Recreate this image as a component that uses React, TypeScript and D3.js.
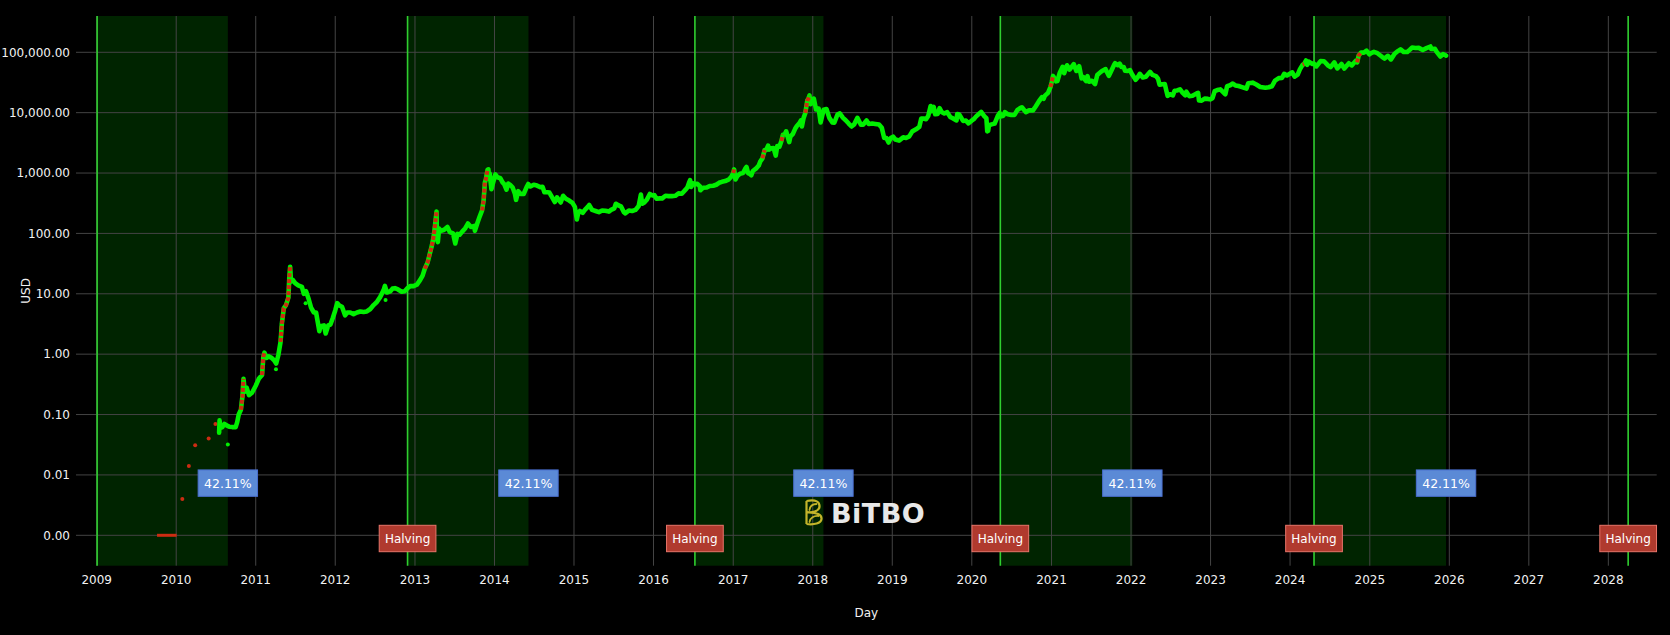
import React from "react";
import * as d3 from "d3";

// ---------- DATA ----------
const yearTicks: number[] = [2009,2010,2011,2012,2013,2014,2015,2016,2017,2018,2019,2020,2021,2022,2023,2024,2025,2026,2027,2028];
const priceTicks: number[] = [0.001,0.01,0.1,1,10,100,1000,10000,100000];

// halving dates (first = genesis block)
const halvingLines: string[] = ["2009-01-03","2012-11-28","2016-07-09","2020-05-11","2024-04-20","2028-04-01"];
const halvingLabels: string[] = ["2012-11-28","2016-07-09","2020-05-11","2024-04-20","2028-04-01"];
// shaded phase: halving -> 42.11% of the cycle
const shadeStarts: string[] = ["2009-01-03","2012-11-28","2016-07-09","2020-05-11","2024-04-20"];
const shadeEnds: string[] = ["2010-08-26","2014-06-06","2018-02-19","2022-01-07","2025-12-17"];
const shadeLabel = "42.11%";

// flat early price (~$0.001)
const earlyFlat: [string, number][] = [
  ["2009-10-05",0.001],["2009-10-25",0.001],["2009-11-15",0.001],["2009-12-05",0.001],["2009-12-25",0.001],["2010-01-03",0.001],
];
// sparse early red points
const earlyRedDots: [string, number][] = [
  ["2010-01-29",0.004],["2010-02-28",0.014],["2010-03-29",0.031],["2010-05-30",0.040],["2010-06-30",0.07],
];
// isolated green points off the main band
const outlierDots: [string, number][] = [
  ["2010-08-26",0.032],["2011-04-04",0.56],["2011-08-18",7.0],["2012-08-19",7.9],
];

// main BTC price series (USD)
const btcPrice: [string, number][] = [
["2010-07-17",0.05],["2010-07-19",0.08],["2010-07-23",0.06],["2010-08-01",0.062],["2010-08-10",0.07],["2010-08-20",0.066],
["2010-09-01",0.063],["2010-09-15",0.062],["2010-10-01",0.062],["2010-10-08",0.075],["2010-10-15",0.10],["2010-10-25",0.12],
["2010-11-01",0.20],["2010-11-06",0.39],["2010-11-12",0.24],["2010-11-20",0.28],["2010-12-01",0.21],["2010-12-15",0.23],
["2011-01-01",0.30],["2011-01-15",0.39],["2011-01-30",0.45],["2011-02-05",0.90],["2011-02-10",1.06],["2011-02-20",0.87],
["2011-03-01",0.92],["2011-03-15",0.87],["2011-03-28",0.78],["2011-04-05",0.70],["2011-04-15",0.97],["2011-04-25",1.6],
["2011-05-01",3.2],["2011-05-10",5.8],["2011-05-20",6.5],["2011-05-31",8.7],["2011-06-04",18],["2011-06-08",28],
["2011-06-12",16],["2011-06-20",17],["2011-07-01",15],["2011-07-15",13.8],["2011-08-01",13],["2011-08-10",10],
["2011-08-20",11],["2011-09-01",8.2],["2011-09-12",5.9],["2011-09-25",4.9],["2011-10-05",4.9],["2011-10-20",2.4],
["2011-10-25",2.9],["2011-11-10",3.0],["2011-11-18",2.2],["2011-11-30",3.0],["2011-12-10",3.1],["2011-12-20",3.9],
["2012-01-01",5.3],["2012-01-10",7.0],["2012-01-20",6.4],["2012-02-01",6.1],["2012-02-15",4.4],["2012-02-25",4.9],
["2012-03-10",4.9],["2012-03-25",4.6],["2012-04-10",4.9],["2012-04-25",5.1],["2012-05-10",5.0],["2012-05-25",5.1],
["2012-06-10",5.6],["2012-06-25",6.5],["2012-07-10",7.3],["2012-07-25",8.8],["2012-08-10",11.5],["2012-08-16",13.5],
["2012-08-25",10.5],["2012-09-10",11.0],["2012-09-20",12.2],["2012-10-01",12.4],["2012-10-15",11.8],["2012-11-01",10.8],
["2012-11-15",11.0],["2012-11-28",12.4],["2012-12-10",13.4],["2012-12-25",13.4],["2013-01-10",14.2],["2013-01-25",17],
["2013-02-05",20],["2013-02-15",26],["2013-02-28",33],["2013-03-10",46],["2013-03-20",64],["2013-03-28",90],
["2013-04-03",135],["2013-04-10",230],["2013-04-12",80],["2013-04-16",72],["2013-04-22",120],["2013-05-01",110],
["2013-05-15",115],["2013-05-30",128],["2013-06-10",105],["2013-06-25",100],["2013-07-05",68],["2013-07-15",98],
["2013-07-25",95],["2013-08-05",106],["2013-08-20",122],["2013-09-01",146],["2013-09-15",128],["2013-10-01",133],
["2013-10-03",110],["2013-10-15",150],["2013-10-25",190],["2013-11-05",240],["2013-11-12",350],["2013-11-18",700],
["2013-11-22",780],["2013-11-30",1130],["2013-12-04",1150],["2013-12-07",800],["2013-12-10",980],["2013-12-18",540],
["2013-12-25",680],["2014-01-05",950],["2014-01-15",850],["2014-01-28",820],["2014-02-07",700],["2014-02-15",650],
["2014-02-25",530],["2014-03-05",670],["2014-03-15",630],["2014-03-25",580],["2014-04-05",450],["2014-04-10",360],
["2014-04-20",500],["2014-05-01",450],["2014-05-15",450],["2014-05-28",580],["2014-06-05",660],["2014-06-15",600],
["2014-06-30",640],["2014-07-15",620],["2014-07-30",585],["2014-08-10",590],["2014-08-18",480],["2014-09-01",480],
["2014-09-10",475],["2014-09-22",400],["2014-10-05",330],["2014-10-15",395],["2014-11-01",325],["2014-11-12",420],
["2014-11-25",375],["2014-12-10",350],["2014-12-25",320],["2015-01-05",275],["2015-01-14",170],["2015-01-20",215],
["2015-01-28",235],["2015-02-10",220],["2015-02-20",245],["2015-03-05",275],["2015-03-12",295],["2015-03-25",245],
["2015-04-10",235],["2015-04-25",225],["2015-05-10",240],["2015-05-25",238],["2015-06-10",230],["2015-06-20",245],
["2015-07-05",260],["2015-07-12",310],["2015-07-25",290],["2015-08-05",280],["2015-08-18",225],["2015-08-25",215],
["2015-09-10",240],["2015-09-25",235],["2015-10-10",245],["2015-10-25",285],["2015-11-04",440],["2015-11-10",310],
["2015-11-20",325],["2015-12-01",360],["2015-12-15",450],["2015-12-28",425],["2016-01-05",430],["2016-01-15",375],
["2016-01-30",380],["2016-02-10",380],["2016-02-25",420],["2016-03-10",415],["2016-03-25",415],["2016-04-10",420],
["2016-04-25",460],["2016-05-10",455],["2016-05-27",530],["2016-06-05",580],["2016-06-12",690],["2016-06-17",760],
["2016-06-22",590],["2016-07-01",675],["2016-07-09",650],["2016-07-20",665],["2016-08-01",600],["2016-08-03",520],
["2016-08-15",570],["2016-09-01",575],["2016-09-15",610],["2016-10-01",615],["2016-10-15",640],["2016-10-28",690],
["2016-11-10",715],["2016-11-25",735],["2016-12-10",775],["2016-12-22",860],["2017-01-01",1000],["2017-01-05",1150],
["2017-01-11",780],["2017-01-20",895],["2017-02-01",975],["2017-02-15",1000],["2017-02-25",1180],["2017-03-03",1260],
["2017-03-10",1000],["2017-03-18",970],["2017-03-25",920],["2017-04-01",1080],["2017-04-15",1180],["2017-04-28",1330],
["2017-05-05",1550],["2017-05-15",1750],["2017-05-25",2400],["2017-06-01",2400],["2017-06-10",2850],["2017-06-15",2450],
["2017-06-25",2580],["2017-07-05",2600],["2017-07-15",1950],["2017-07-22",2800],["2017-08-01",2730],["2017-08-10",3400],
["2017-08-17",4300],["2017-08-25",4350],["2017-09-01",4900],["2017-09-15",3250],["2017-09-20",4000],["2017-10-01",4400],
["2017-10-12",5400],["2017-10-20",6000],["2017-11-01",6700],["2017-11-08",7450],["2017-11-12",5900],["2017-11-20",8200],
["2017-11-28",9900],["2017-12-07",16000],["2017-12-12",17000],["2017-12-17",19300],["2017-12-22",13800],["2017-12-28",14500],
["2018-01-06",17100],["2018-01-16",11300],["2018-01-28",11700],["2018-02-06",6900],["2018-02-20",11200],["2018-03-05",11500],
["2018-03-18",8200],["2018-04-01",6900],["2018-04-10",6800],["2018-04-25",9400],["2018-05-05",9700],["2018-05-20",8200],
["2018-06-01",7500],["2018-06-15",6600],["2018-06-28",5900],["2018-07-10",6400],["2018-07-25",8200],["2018-08-10",6300],
["2018-08-20",6300],["2018-09-05",7400],["2018-09-15",6500],["2018-10-01",6600],["2018-10-15",6500],["2018-11-01",6350],
["2018-11-14",5600],["2018-11-20",4500],["2018-11-25",3800],["2018-12-05",3800],["2018-12-15",3200],["2018-12-25",3800],
["2019-01-05",4000],["2019-01-15",3600],["2019-02-01",3450],["2019-02-20",3900],["2019-03-05",3800],["2019-03-20",4050],
["2019-04-03",4900],["2019-04-20",5300],["2019-05-05",5800],["2019-05-14",8000],["2019-05-25",8000],["2019-06-05",7800],
["2019-06-15",8800],["2019-06-26",12900],["2019-07-02",10600],["2019-07-10",12500],["2019-07-17",9400],["2019-07-28",9500],
["2019-08-06",11900],["2019-08-15",10300],["2019-08-28",9700],["2019-09-10",10200],["2019-09-25",8400],["2019-10-05",8100],
["2019-10-23",7450],["2019-10-26",9500],["2019-11-05",9300],["2019-11-22",7300],["2019-12-05",7400],["2019-12-17",6650],
["2019-12-30",7300],["2020-01-10",7800],["2020-01-20",8600],["2020-02-01",9400],["2020-02-13",10300],["2020-02-28",8700],
["2020-03-08",8100],["2020-03-12",4900],["2020-03-16",5000],["2020-03-20",6200],["2020-04-01",6400],["2020-04-15",6600],
["2020-04-29",8800],["2020-05-08",9900],["2020-05-11",8600],["2020-05-25",8900],["2020-06-01",10200],["2020-06-15",9400],
["2020-06-30",9150],["2020-07-15",9200],["2020-07-28",11000],["2020-08-10",11900],["2020-08-18",12300],["2020-09-05",10200],
["2020-09-20",10900],["2020-10-08",10900],["2020-10-21",12800],["2020-11-05",15600],["2020-11-18",18000],["2020-11-26",17000],
["2020-12-01",19000],["2020-12-16",21300],["2020-12-27",26500],["2021-01-02",32200],["2021-01-08",40600],["2021-01-22",33000],
["2021-01-28",33400],["2021-02-08",46000],["2021-02-21",57400],["2021-02-28",45000],["2021-03-13",61000],["2021-03-25",51700],
["2021-04-13",63500],["2021-04-25",49000],["2021-05-08",58800],["2021-05-19",37000],["2021-05-26",39200],["2021-06-08",33400],
["2021-06-15",40200],["2021-06-22",32500],["2021-07-05",33800],["2021-07-20",29800],["2021-07-30",42000],["2021-08-14",47000],
["2021-08-23",49500],["2021-09-06",52600],["2021-09-21",40700],["2021-10-01",48100],["2021-10-15",61500],["2021-10-20",66000],
["2021-11-01",61000],["2021-11-10",64900],["2021-11-18",56900],["2021-11-28",57200],["2021-12-05",49300],["2021-12-15",48900],
["2021-12-27",50700],["2022-01-05",43500],["2022-01-22",35000],["2022-02-01",38700],["2022-02-10",44000],["2022-02-24",38300],
["2022-03-10",39300],["2022-03-29",47400],["2022-04-10",42200],["2022-04-25",40400],["2022-05-05",36500],["2022-05-12",29000],
["2022-05-25",29600],["2022-06-05",29900],["2022-06-13",22500],["2022-06-18",19000],["2022-06-28",20200],["2022-07-12",19300],
["2022-07-20",23100],["2022-08-01",23300],["2022-08-14",24400],["2022-08-25",21500],["2022-09-07",19300],["2022-09-12",22300],
["2022-09-25",18800],["2022-10-10",19100],["2022-10-29",20800],["2022-11-05",21300],["2022-11-09",15900],["2022-11-21",15800],
["2022-12-05",17100],["2022-12-20",16900],["2022-12-30",16600],["2023-01-10",17400],["2023-01-20",22700],["2023-02-01",23700],
["2023-02-15",24300],["2023-03-10",20200],["2023-03-18",27400],["2023-04-01",28500],["2023-04-13",30400],["2023-04-25",28300],
["2023-05-10",27600],["2023-05-25",26500],["2023-06-15",25100],["2023-06-23",30700],["2023-07-13",31400],["2023-07-30",29300],
["2023-08-17",26600],["2023-09-10",25800],["2023-09-25",26300],["2023-10-10",27400],["2023-10-24",34000],["2023-11-10",37300],
["2023-11-25",37700],["2023-12-05",44000],["2023-12-18",41400],["2024-01-11",46600],["2024-01-22",39500],["2024-02-05",42700],
["2024-02-15",52000],["2024-02-28",62500],["2024-03-05",63800],["2024-03-14",73100],["2024-03-20",62000],["2024-03-27",70000],
["2024-04-13",63900],["2024-04-20",64900],["2024-05-01",58300],["2024-05-20",71400],["2024-06-05",71100],["2024-06-24",60300],
["2024-07-05",56700],["2024-07-22",68000],["2024-08-05",54000],["2024-08-24",64100],["2024-09-06",53900],["2024-09-27",65800],
["2024-10-10",60600],["2024-10-29",72700],["2024-11-04",68000],["2024-11-11",88700],["2024-11-22",98900],["2024-12-05",98700],
["2024-12-17",106100],["2024-12-30",92600],["2025-01-07",96900],["2025-01-20",101500],["2025-02-05",96600],["2025-02-26",84300],
["2025-03-10",78600],["2025-03-25",87400],["2025-04-08",76300],["2025-04-25",94700],["2025-05-10",104700],["2025-05-22",111700],
["2025-06-05",101500],["2025-06-22",100900],["2025-07-03",109600],["2025-07-14",119800],["2025-07-30",117800],["2025-08-14",118400],
["2025-09-01",109200],["2025-09-18",117100],["2025-10-06",124700],["2025-10-10",113200],["2025-10-27",114100],["2025-11-04",101600],
["2025-11-21",85100],["2025-12-03",93500],["2025-12-12",90300],["2025-12-17",87800],
];

// periods where points are coloured red
const redPeriods: [string, string][] = [
  ["2010-10-20","2010-11-08"],["2011-01-25","2011-02-10"],["2011-04-20","2011-06-08"],["2013-02-10","2013-04-10"],
  ["2013-10-28","2013-12-04"],["2017-01-01","2017-01-05"],["2017-05-15","2017-05-25"],["2017-08-10","2017-08-17"],
  ["2017-11-28","2017-12-17"],["2020-12-27","2021-01-08"],["2024-02-28","2024-03-05"],["2024-11-04","2024-11-22"],
];

// ---------- CHART ----------
const W = 1670, H = 635;
const L = 76, R = 1656.7, T = 16, B = 565.7;
const FONT = "'DejaVu Sans', Verdana, sans-serif";
const GREEN = "#00f000";
const RED = "#cc2c12";

const parse = d3.utcParse("%Y-%m-%d");
type P = [Date, number];

export default function App() {
  const x = d3.scaleUtc().domain([parse("2008-09-28")!, parse("2028-08-10")!]).range([L, R]);
  const y = d3.scaleLog().domain([Math.pow(10, -3.5035), Math.pow(10, 5.601)]).range([B, T]);
  const fmt = d3.format(",.2f");
  const toP = (a: [string, number][]): P[] => a.map(d => [parse(d[0])!, d[1]]);
  const series = toP(btcPrice);
  const line = d3.line<P>().x(d => x(d[0])).y(d => y(d[1]));

  const redSegs = redPeriods.map(([s, e]) => {
    const ds = parse(s)!, de = parse(e)!;
    return series.filter(d => d[0] >= ds && d[0] <= de);
  });

  return (
    <div style={{ position: "absolute", left: 0, top: 0 }}>
      <svg width={W} height={H} style={{ display: "block", background: "#000" }}>
        <rect x={0} y={0} width={W} height={H} fill="#000" />
        {/* shaded phases */}
        {shadeStarts.map((s, i) => (
          <rect key={"sh" + i} x={x(parse(s)!)} y={T} width={x(parse(shadeEnds[i])!) - x(parse(s)!)} height={B - T} fill="rgb(0,36,0)" />
        ))}
        {/* grid */}
        {yearTicks.map(yr => {
          const xx = x(new Date(Date.UTC(yr, 0, 1)));
          return <line key={"vx" + yr} x1={xx} x2={xx} y1={T} y2={B} stroke="#444" strokeWidth={1} />;
        })}
        {priceTicks.map(v => (
          <line key={"hy" + v} x1={L} x2={R} y1={y(v)} y2={y(v)} stroke="#444" strokeWidth={1} />
        ))}
        {/* halving lines */}
        {halvingLines.map((h, i) => {
          const xx = x(parse(h)!);
          return <line key={"hl" + i} x1={xx} x2={xx} y1={T} y2={B} stroke="#2fcf2f" strokeWidth={1.6} />;
        })}
        {/* price */}
        <path d={line(toP(earlyFlat)) || ""} fill="none" stroke={RED} strokeWidth={3} />
        {toP(earlyRedDots).map((d, i) => (
          <circle key={"er" + i} cx={x(d[0])} cy={y(d[1])} r={2} fill={RED} />
        ))}
        {toP(outlierDots).map((d, i) => (
          <circle key={"od" + i} cx={x(d[0])} cy={y(d[1])} r={2} fill={GREEN} />
        ))}
        <path d={line(series) || ""} fill="none" stroke={GREEN} strokeWidth={4.6} strokeLinejoin="round" strokeLinecap="round" />
        {redSegs.map((seg, i) => (
          <path key={"rs" + i} d={line(seg) || ""} fill="none" stroke={RED} strokeWidth={4} strokeDasharray="4 2" />
        ))}
        {/* axis labels */}
        {priceTicks.map(v => (
          <text key={"yt" + v} x={70} y={y(v)} dy="0.36em" textAnchor="end" fill="#f2f2f2" fontSize={12} fontFamily={FONT}>{fmt(v)}</text>
        ))}
        {yearTicks.map(yr => (
          <text key={"xt" + yr} x={x(new Date(Date.UTC(yr, 0, 1)))} y={583.5} textAnchor="middle" fill="#f2f2f2" fontSize={12} fontFamily={FONT}>{yr}</text>
        ))}
        <text x={(L + R) / 2} y={617} textAnchor="middle" fill="#f2f2f2" fontSize={12} fontFamily={FONT}>Day</text>
        <text transform={`translate(29.5,${(T + B) / 2}) rotate(-90)`} textAnchor="middle" fill="#f2f2f2" fontSize={12} fontFamily={FONT}>USD</text>
        {/* 42.11% annotations */}
        {shadeEnds.map((e, i) => {
          const cx = x(parse(e)!);
          const cy = y(0.01) + 8.2;
          return (
            <g key={"pa" + i}>
              <rect x={cx - 29.7} y={cy - 13.2} width={59.4} height={26.4} fill="#5b8ad6" stroke="#4a6fd0" strokeWidth={1} />
              <text x={cx} y={cy} dy="0.36em" textAnchor="middle" fill="#fff" fontSize={12.5} fontFamily={FONT}>{shadeLabel}</text>
            </g>
          );
        })}
        {/* logo */}
        <g>
          <path d="M806.5,501 L806.5,524 M806.5,501 C816,499 820,502 819.5,507 C819,511 813,512.5 806.5,512.5 C817,512 822,515 821.5,519 C821,523.5 814,525 806.5,524"
            fill="none" stroke="#c4b52a" strokeWidth={2.2} strokeLinejoin="round" />
          <path d="M809.5,510 C810,506 813,504 816.5,504 M809.5,522 C810,518 814,515.5 818.5,516"
            fill="none" stroke="#c4b52a" strokeWidth={1.8} strokeLinecap="round" />
          <text x={831} y={522.5} fill="#e8e8e8" fontSize={27} fontWeight="bold" fontFamily={FONT} letterSpacing={0.5}>BiTBO</text>
        </g>
        {/* Halving annotations */}
        {halvingLabels.map((h, i) => {
          const cx = x(parse(h)!);
          const cy = y(0.001) + 3.2;
          return (
            <g key={"ha" + i}>
              <rect x={cx - 28.35} y={cy - 13.2} width={56.7} height={26.4} fill="#b03a2e" stroke="#e8756a" strokeWidth={1} />
              <text x={cx} y={cy} dy="0.36em" textAnchor="middle" fill="#fff" fontSize={12} fontFamily={FONT}>Halving</text>
            </g>
          );
        })}
      </svg>
    </div>
  );
}
